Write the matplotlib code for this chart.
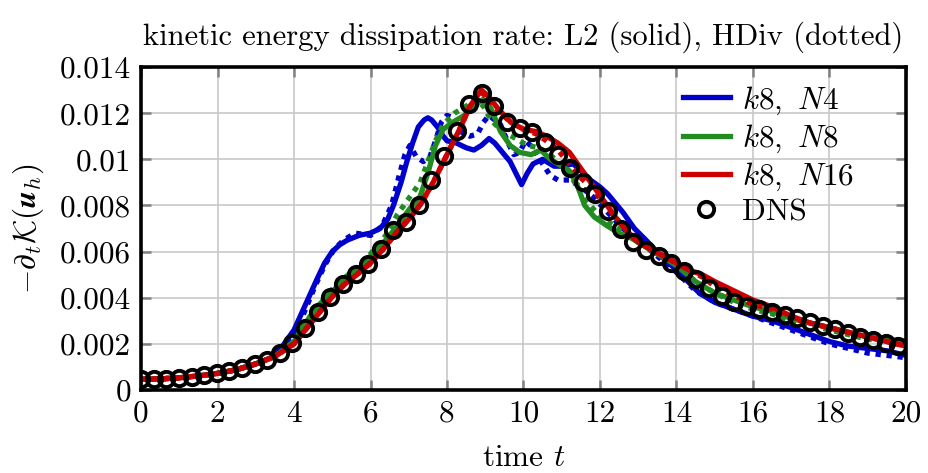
import numpy as np
import matplotlib
matplotlib.use("Agg")
import matplotlib.pyplot as plt

plt.rcParams['font.family'] = 'serif'
plt.rcParams['font.serif'] = ['cmr10']
plt.rcParams['mathtext.fontset'] = 'cm'
plt.rcParams['axes.unicode_minus'] = False
plt.rcParams['axes.formatter.use_mathtext'] = True

## Data
dns_t = 0.33 * np.arange(61)
dns_val = [0.00046, 0.00047, 0.00049, 0.00053, 0.00058, 0.00065, 0.00072, 0.00082,
           0.00094, 0.00113, 0.0013, 0.00159, 0.00202, 0.00267, 0.00337, 0.00404,
           0.00459, 0.00503, 0.00546, 0.0061, 0.00693, 0.0073, 0.0080, 0.0091,
           0.01016, 0.01124, 0.01238, 0.01286, 0.01231, 0.01163, 0.01134, 0.01117,
           0.01074, 0.01019, 0.0096, 0.00903, 0.00848, 0.00777, 0.00697, 0.00643,
           0.00607, 0.00581, 0.00549, 0.00517, 0.0048, 0.00441, 0.00407, 0.00383,
           0.00364, 0.00351, 0.00337, 0.00325, 0.00311, 0.00296, 0.00279, 0.00264,
           0.00246, 0.00231, 0.00217, 0.00202, 0.0019]

# (t, value) pairs
n4_l2 = [(0, 0.00046), (0.5, 0.00048), (1, 0.00053), (1.5, 0.00061), (2, 0.00072),
         (2.5, 0.00088), (3, 0.00113), (3.4, 0.0014), (3.7, 0.0019), (4.0, 0.0026),
         (4.3, 0.0037), (4.6, 0.0048), (4.8, 0.0055), (5.0, 0.0060), (5.2, 0.0063),
         (5.4, 0.0065), (5.7, 0.0067), (6.0, 0.0068), (6.25, 0.0070), (6.45, 0.0074),
         (6.6, 0.0080), (6.8, 0.0090), (6.95, 0.0099), (7.1, 0.0107), (7.25, 0.0114),
         (7.4, 0.0117), (7.5, 0.0118), (7.6, 0.0117), (7.75, 0.0114), (7.9, 0.0110),
         (8.0, 0.0108), (8.25, 0.0107), (8.5, 0.0105), (8.7, 0.0104), (8.9, 0.0106),
         (9.1, 0.0109), (9.25, 0.0107), (9.4, 0.0104), (9.65, 0.0099), (9.8, 0.0094),
         (9.95, 0.0089), (10.1, 0.0094), (10.25, 0.0098), (10.5, 0.0100), (10.8, 0.0097),
         (11.0, 0.0097), (11.3, 0.0098), (11.5, 0.0095), (11.75, 0.0091), (12.0, 0.0088),
         (12.2, 0.0085), (12.6, 0.0077), (12.9, 0.0070), (13.2, 0.0065), (13.6, 0.0058),
         (14.0, 0.0052), (14.3, 0.0047), (14.6, 0.0042), (15.0, 0.0038), (15.5, 0.0035),
         (16.0, 0.0032), (16.5, 0.0030), (17.0, 0.0027), (17.5, 0.0024), (18.0, 0.0021),
         (18.5, 0.0019), (19.0, 0.0018), (19.5, 0.0017), (20.0, 0.0015)]

n4_hdiv = [(0, 0.00046), (0.5, 0.00048), (1, 0.00053), (1.5, 0.00061), (2, 0.00072),
           (2.5, 0.00088), (3, 0.00113), (3.5, 0.00145), (3.9, 0.0021), (4.1, 0.0027),
           (4.3, 0.0035), (4.55, 0.0045), (4.8, 0.0054), (5.05, 0.0061), (5.3, 0.0065),
           (5.6, 0.0068), (6.0, 0.0067), (6.3, 0.0071), (6.55, 0.0080), (6.75, 0.0093),
           (6.9, 0.0102), (7.03, 0.0106), (7.2, 0.0101), (7.38, 0.0099), (7.55, 0.0101),
           (7.7, 0.0108), (7.85, 0.0116), (8.0, 0.0119), (8.15, 0.0118), (8.35, 0.0112),
           (8.6, 0.0110), (8.8, 0.0111), (8.95, 0.0116), (9.1, 0.0119), (9.4, 0.0115),
           (9.6, 0.0107), (9.75, 0.0102), (9.9, 0.0103), (10.05, 0.0108), (10.25, 0.0105),
           (10.5, 0.0098), (10.7, 0.0093), (10.9, 0.0091), (11.2, 0.0091), (11.5, 0.0088),
           (11.8, 0.0084), (12.2, 0.0077), (12.6, 0.0070), (13.0, 0.0065), (13.5, 0.0058),
           (14.0, 0.0051), (14.5, 0.0043), (15.0, 0.0038), (15.5, 0.0035), (16.0, 0.0032),
           (16.5, 0.0029), (17.0, 0.0026), (17.5, 0.0023), (18.0, 0.0020), (18.5, 0.0018),
           (19.0, 0.0016), (19.5, 0.0015), (20.0, 0.0014)]

n8_l2 = [(0, 0.00046), (0.5, 0.00048), (1, 0.00053), (1.5, 0.00061), (2, 0.00072),
         (2.5, 0.00088), (3, 0.00113), (3.5, 0.00145), (4.0, 0.0021), (4.3, 0.0029),
         (4.6, 0.0036), (4.9, 0.0041), (5.2, 0.0046), (5.5, 0.0050), (5.8, 0.0054),
         (6.1, 0.0060), (6.4, 0.0065), (6.7, 0.0071), (7.0, 0.0078), (7.3, 0.0084),
         (7.5, 0.0094), (7.7, 0.0106), (7.9, 0.0113), (8.15, 0.0116), (8.45, 0.0119),
         (8.7, 0.0123), (8.95, 0.0126), (9.15, 0.0122), (9.4, 0.0112), (9.65, 0.0106),
         (9.9, 0.0103), (10.2, 0.0102), (10.45, 0.0104), (10.7, 0.0100), (11.0, 0.0097),
         (11.2, 0.0095), (11.4, 0.0089), (11.6, 0.0080), (11.85, 0.0075), (12.2, 0.0071),
         (12.5, 0.0068), (12.8, 0.0066), (13.2, 0.0062), (13.6, 0.0058), (14.0, 0.0054),
         (14.5, 0.0047), (15.0, 0.0042), (15.5, 0.0039), (16.0, 0.0036), (16.5, 0.0034),
         (17.0, 0.0031), (17.5, 0.0029), (18.0, 0.0027), (18.5, 0.0025), (19.0, 0.0023),
         (19.5, 0.0022), (20.0, 0.0021)]

n8_hdiv = [(0, 0.00046), (0.5, 0.00048), (1, 0.00053), (1.5, 0.00061), (2, 0.00072),
           (2.5, 0.00088), (3, 0.00113), (3.5, 0.00145), (4.0, 0.0021), (4.3, 0.0029),
           (4.6, 0.0036), (4.9, 0.0042), (5.2, 0.0047), (5.5, 0.0051), (5.8, 0.0055),
           (6.1, 0.0061), (6.4, 0.0067), (6.7, 0.0076), (7.0, 0.0083), (7.3, 0.0090),
           (7.5, 0.0099), (7.7, 0.0108), (7.9, 0.0115), (8.2, 0.0120), (8.5, 0.0123),
           (8.75, 0.0126), (8.95, 0.0123), (9.15, 0.0117), (9.45, 0.0112), (9.8, 0.0109),
           (10.1, 0.0106), (10.4, 0.0105), (10.7, 0.0102), (11.0, 0.0097), (11.3, 0.0091),
           (11.6, 0.0083), (11.9, 0.0077), (12.2, 0.0073), (12.6, 0.0069), (13.0, 0.0064),
           (13.5, 0.0059), (14.0, 0.0054), (14.5, 0.0047), (15.0, 0.0042), (15.5, 0.0038),
           (16.0, 0.0035), (16.5, 0.0033), (17.0, 0.0030), (17.5, 0.0028), (18.0, 0.0026),
           (18.5, 0.0024), (19.0, 0.0022), (19.5, 0.0021), (20.0, 0.0020)]

n16_l2 = [(0, 0.00046), (0.5, 0.00048), (1, 0.00053), (1.5, 0.00061), (2, 0.00072),
          (2.5, 0.00088), (3, 0.00113), (3.5, 0.00145), (4.0, 0.0020), (4.33, 0.00267),
          (4.67, 0.00337), (5.0, 0.00404), (5.33, 0.00459), (5.67, 0.00503), (6.0, 0.0055),
          (6.33, 0.0061), (6.67, 0.0068), (7.0, 0.0074), (7.33, 0.0081), (7.67, 0.0091),
          (8.0, 0.0102), (8.33, 0.0113), (8.6, 0.0123), (8.9, 0.0130), (9.1, 0.0127),
          (9.33, 0.0122), (9.67, 0.0116), (10.0, 0.0113), (10.33, 0.0112), (10.6, 0.0110),
          (10.9, 0.0107), (11.2, 0.0103), (11.5, 0.0096), (11.8, 0.0089), (12.1, 0.0082),
          (12.4, 0.0075), (12.7, 0.0069), (13.0, 0.0064), (13.33, 0.0061), (13.67, 0.0058),
          (14.0, 0.0055), (14.33, 0.0052), (14.67, 0.0050), (15.0, 0.0047), (15.5, 0.0043),
          (16.0, 0.0039), (16.5, 0.0036), (17.0, 0.0032), (17.5, 0.0029), (18.0, 0.0027),
          (18.5, 0.0025), (19.0, 0.0023), (19.5, 0.0021), (20.0, 0.0019)]

n16_hdiv = [(0, 0.00046), (0.5, 0.00048), (1, 0.00053), (1.5, 0.00061), (2, 0.00072),
            (2.5, 0.00088), (3, 0.00113), (3.5, 0.00145), (4.0, 0.0020), (4.33, 0.00268),
            (4.67, 0.00338), (5.0, 0.00405), (5.33, 0.00460), (5.67, 0.00505), (6.0, 0.0055),
            (6.33, 0.0061), (6.67, 0.0068), (7.0, 0.0074), (7.33, 0.0081), (7.67, 0.0091),
            (8.0, 0.0102), (8.33, 0.0113), (8.6, 0.0123), (8.9, 0.0129), (9.1, 0.0126),
            (9.33, 0.0121), (9.67, 0.0116), (10.0, 0.0113), (10.33, 0.0111), (10.6, 0.0108),
            (10.9, 0.0104), (11.2, 0.0098), (11.5, 0.0092), (11.8, 0.0087), (12.1, 0.0081),
            (12.4, 0.0075), (12.7, 0.0069), (13.0, 0.0064), (13.33, 0.0061), (13.67, 0.0058),
            (14.0, 0.0055), (14.33, 0.0052), (14.67, 0.0049), (15.0, 0.0045), (15.5, 0.0041),
            (16.0, 0.0037), (16.5, 0.0035), (17.0, 0.0031), (17.5, 0.0029), (18.0, 0.0027),
            (18.5, 0.0025), (19.0, 0.0023), (19.5, 0.0021), (20.0, 0.0019)]

xticks = list(range(0, 21, 2))
yticks = [0, 0.002, 0.004, 0.006, 0.008, 0.01, 0.012, 0.014]
ytick_labels = ['0', '0.002', '0.004', '0.006', '0.008', '0.01', '0.012', '0.014']

blue, green, red = '#0000CC', '#228B22', '#CC0000'
lw = 3.8
fs = 22.5

fig = plt.figure(figsize=(9.29, 4.73), dpi=100)
ax = fig.add_axes([0.1518, 0.1755, 0.8234, 0.6829])

series = [(n4_l2, blue, '-', r'$k8,\ N4$'), (n4_hdiv, blue, (0, (1, 1.1)), None),
          (n8_l2, green, '-', r'$k8,\ N8$'), (n8_hdiv, green, (0, (1, 1.1)), None),
          (n16_l2, red, '-', r'$k8,\ N16$'), (n16_hdiv, red, (0, (1, 1.1)), None)]
for data, col, ls, lab in series:
    d = np.array(data)
    ax.plot(d[:, 0], d[:, 1], color=col, ls=ls, lw=lw, label=lab)

ax.plot(dns_t, dns_val, 'o', mfc='none', mec='black', mew=2.8, ms=11, label='DNS', zorder=5)

ax.set_xlim(0, 20)
ax.set_ylim(0, 0.014)
ax.set_xticks(xticks)
ax.set_xticklabels([str(x) for x in xticks])
ax.set_yticks(yticks)
ax.set_yticklabels(ytick_labels)
ax.grid(True, color='#c8c8c8', lw=1.2)
ax.tick_params(direction='in', top=True, right=True, length=7, width=1.8,
               color='#808080', labelsize=fs, pad=7)
for s in ax.spines.values():
    s.set_linewidth(2.6)

ax.set_title('kinetic energy dissipation rate: L2 (solid), HDiv (dotted)', fontsize=22, pad=16)
ax.set_xlabel(r'time $t$', fontsize=fs, labelpad=12)
ax.set_ylabel(r'$-\partial_t\mathcal{K}(\boldsymbol{u}_h)$', fontsize=fs, labelpad=10)

leg = ax.legend(loc='upper right', frameon=False, fontsize=fs, handlelength=1.5,
                labelspacing=0.18, handletextpad=0.4, borderaxespad=0.15,
                bbox_to_anchor=(0.955, 1.0))

fig.savefig('out.png', dpi=100)
